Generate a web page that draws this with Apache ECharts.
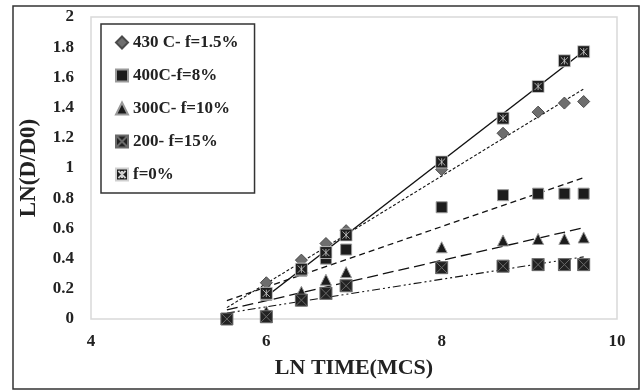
<!DOCTYPE html>
<html>
<head>
<meta charset="utf-8">
<script src="https://cdn.jsdelivr.net/npm/echarts@6/dist/echarts.min.js"></script>
<style>
  html, body { margin: 0; padding: 0; background: #fff; }
  #main { width: 641px; height: 391px; }
</style>
</head>
<body>
<div id="main"></div>
<script>
// ln(time) at which the samples were taken
var lnTime = [5.55, 6.0, 6.4, 6.68, 6.91, 8.0, 8.7, 9.1, 9.4, 9.62];
// ln(D/D0) per case
var y430 = [0, 0.24, 0.39, 0.50, 0.585, 0.99, 1.23, 1.37, 1.43, 1.44];
var y400 = [0, 0.16, 0.32, 0.40, 0.46, 0.74, 0.82, 0.83, 0.83, 0.83];
var y300 = [0, 0.05, 0.18, 0.26, 0.31, 0.475, 0.52, 0.53, 0.53, 0.54];
var y200 = [0, 0.015, 0.125, 0.17, 0.22, 0.34, 0.35, 0.36, 0.36, 0.36];
var yF0 = [null, 0.17, 0.33, 0.44, 0.556, 1.04, 1.33, 1.54, 1.71, 1.77];
var names = ['430 C- f=1.5%', '400C-f=8%', '300C- f=10%', '200- f=15%', 'f=0%'];
var xTicks = [4, 6, 8, 10];

var font = 'Liberation Serif';

function pairs(ys) {
    var out = [];
    for (var i = 0; i < lnTime.length; i++) {
        if (ys[i] !== null) out.push([lnTime[i], ys[i]]);
    }
    return out;
}

// excel style linear trendline over the data range
function trend(ys) {
    var p = pairs(ys);
    var n = p.length, sx = 0, sy = 0;
    p.forEach(function (d) { sx += d[0]; sy += d[1]; });
    var mx = sx / n, my = sy / n, sxy = 0, sxx = 0;
    p.forEach(function (d) { sxy += (d[0] - mx) * (d[1] - my); sxx += (d[0] - mx) * (d[0] - mx); });
    var k = sxy / sxx;
    var x0 = p[0][0], x1 = p[n - 1][0];
    return [[x0, my + k * (x0 - mx)], [x1, my + k * (x1 - mx)]];
}

var sqX = 'path://M0,0L10,0L10,10L0,10Z M0,0L10,10 M10,0L0,10';
var sqStar = 'path://M0,0L10,0L10,10L0,10Z M2,2L8,8 M8,2L2,8 M5,2L5,8';

var markers = [
    { data: y430, symbol: 'diamond', size: 12, color: '#6e6e6e', border: '#4a4a4a', bw: 1, dash: [3, 2], width: 1.1 },
    { data: y400, symbol: 'rect', size: 11, color: '#1c1c1c', border: '#9a9a9a', bw: 1, dash: [6, 4], width: 1.3 },
    { data: y300, symbol: 'triangle', size: 11, color: '#1c1c1c', border: '#9a9a9a', bw: 1, dash: [11, 5], width: 1.3 },
    { data: y200, symbol: sqX, size: 12, color: '#222', border: '#6a6a6a', bw: 1, dash: [8, 3, 2, 3, 2, 3], width: 1.1 },
    { data: yF0, symbol: sqStar, size: 12, color: '#1e1e1e', border: '#d0d0d0', bw: 0.8, dash: 'solid', width: 1.4 }
];

var series = [];
markers.forEach(function (m, i) {
    series.push({
        name: names[i] + ' trend',
        type: 'line',
        data: trend(m.data),
        symbol: 'none',
        silent: true,
        z: 1,
        lineStyle: { color: '#111', width: m.width, type: m.dash }
    });
});
markers.forEach(function (m, i) {
    series.push({
        name: names[i],
        type: 'scatter',
        data: pairs(m.data),
        symbol: m.symbol,
        symbolSize: m.size,
        z: 3,
        itemStyle: { color: m.color, borderColor: m.border, borderWidth: m.bw, opacity: 1 }
    });
});

var myChart = echarts.init(document.getElementById('main'));
var option = {
    animation: false,
    backgroundColor: '#fff',
    graphic: [{
        type: 'rect',
        shape: { x: 13, y: 6, width: 626, height: 383 },
        style: { fill: 'none', stroke: '#333', lineWidth: 1.5 },
        silent: true
    }],
    grid: {
        left: 91, right: 24, top: 17, bottom: 72,
        show: true, borderColor: '#d9d9d9', borderWidth: 1.5
    },
    legend: {
        data: names,
        orient: 'vertical',
        left: 101,
        top: 24,
        padding: [9, 16, 9, 14],
        itemWidth: 12,
        itemHeight: 12,
        itemGap: 14,
        borderColor: '#333',
        borderWidth: 1.5,
        backgroundColor: '#fff',
        textStyle: { fontFamily: font, fontWeight: 'bold', fontSize: 17, color: '#222', lineHeight: 19 }
    },
    xAxis: {
        type: 'value',
        min: xTicks[0],
        max: xTicks[xTicks.length - 1],
        interval: 2,
        name: 'LN TIME(MCS)',
        nameLocation: 'middle',
        nameGap: 38,
        nameTextStyle: { fontFamily: font, fontWeight: 'bold', fontSize: 22, color: '#222' },
        axisLine: { show: false },
        axisTick: { show: false },
        splitLine: { show: false },
        axisLabel: { margin: 14, fontFamily: font, fontWeight: 'bold', fontSize: 17, color: '#222' }
    },
    yAxis: {
        type: 'value',
        min: 0,
        max: 2,
        interval: 0.2,
        name: 'LN(D/D0)',
        nameLocation: 'middle',
        nameGap: 50,
        nameTextStyle: { fontFamily: font, fontWeight: 'bold', fontSize: 23, color: '#222' },
        axisLine: { show: false },
        axisTick: { show: false },
        splitLine: { show: false },
        axisLabel: { margin: 17, fontFamily: font, fontWeight: 'bold', fontSize: 17, color: '#222' }
    },
    series: series
};
myChart.setOption(option);
</script>
</body>
</html>
